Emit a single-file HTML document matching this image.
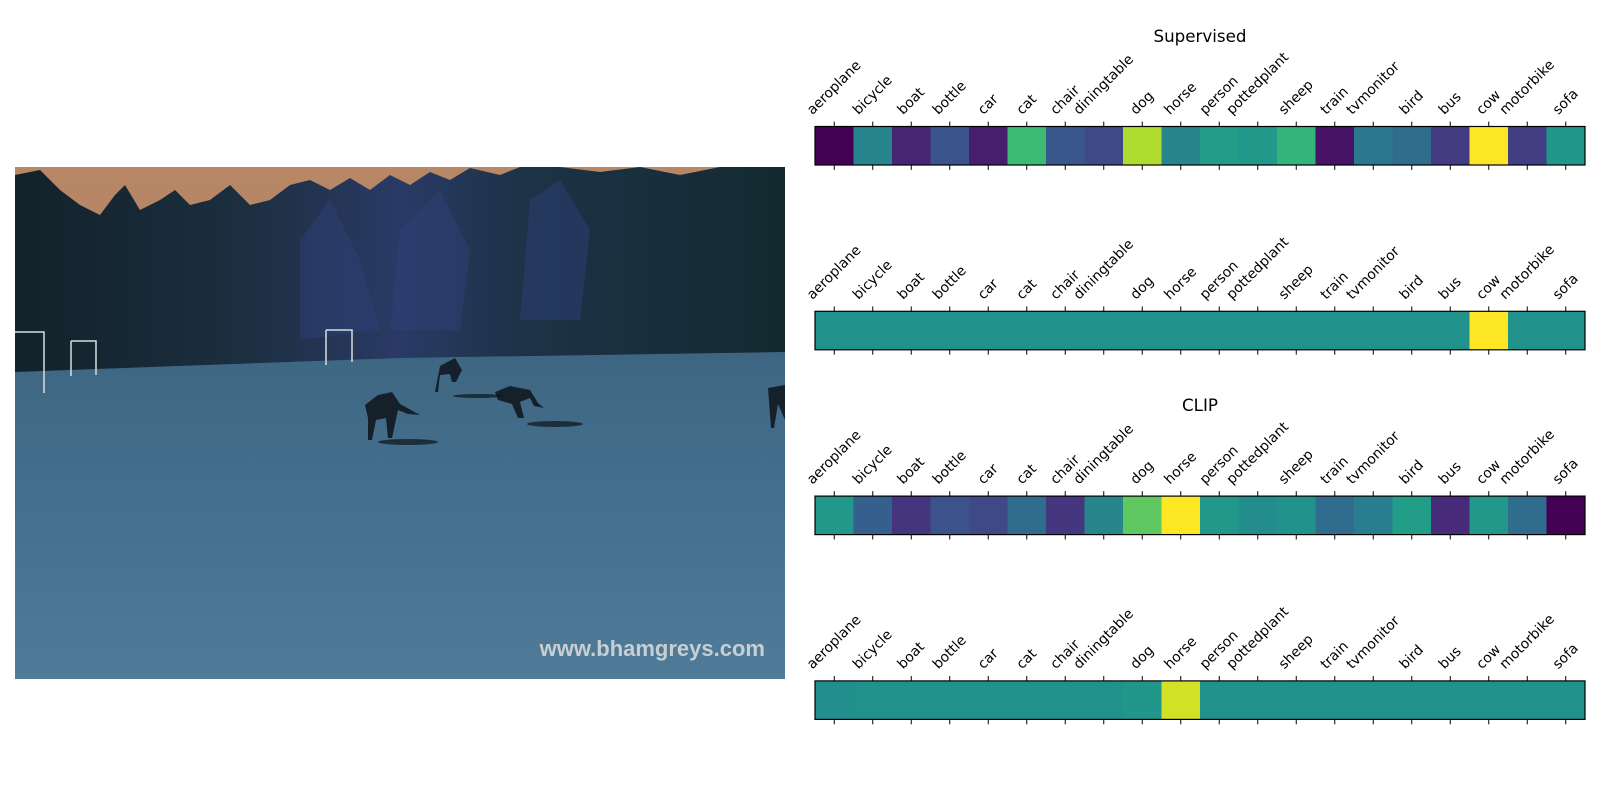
<!DOCTYPE html>
<html><head><meta charset="utf-8">
<style>
html,body{margin:0;padding:0;background:#fff;}
svg{display:block;}
text{font-family:"DejaVu Sans","Liberation Sans",sans-serif;}
</style></head>
<body>
<svg id="fig" width="1600" height="800" viewBox="0 0 1600 800" xmlns="http://www.w3.org/2000/svg">
  <defs>
    <linearGradient id="sky" x1="0" y1="0" x2="0" y2="1">
      <stop offset="0" stop-color="#b88766"/><stop offset="1" stop-color="#a07a68"/>
    </linearGradient>
    <linearGradient id="field" x1="0" y1="0" x2="0" y2="1">
      <stop offset="0" stop-color="#3e6682"/><stop offset="0.5" stop-color="#45718f"/><stop offset="1" stop-color="#4f7b98"/>
    </linearGradient>
    <linearGradient id="trees" x1="0" y1="0" x2="1" y2="0">
      <stop offset="0" stop-color="#12222a"/><stop offset="0.3" stop-color="#1c2f40"/>
      <stop offset="0.5" stop-color="#2a3a66"/><stop offset="0.65" stop-color="#1d3348"/><stop offset="1" stop-color="#132a30"/>
    </linearGradient>
    <clipPath id="imgclip"><rect x="15" y="167" width="770" height="512"/></clipPath>
  </defs>
  <g clip-path="url(#imgclip)">
    <rect x="15" y="167" width="770" height="512" fill="url(#sky)"/>
    <path fill="url(#trees)" d="M15,175 L40,170 L60,190 L80,205 L100,215 L115,195 L125,185 L140,210 L160,200 L175,190 L190,205 L210,200 L230,185 L250,205 L270,200 L290,185 L310,180 L330,190 L350,178 L370,190 L390,175 L410,185 L430,172 L450,180 L470,168 L500,175 L520,167 L560,167 L600,172 L640,167 L680,175 L720,167 L785,167 L785,355 L15,375 Z"/>
    <path fill="#2d3f78" opacity="0.5" d="M300,240 L330,200 L360,260 L380,330 L300,340 Z M400,230 L440,190 L470,250 L460,330 L390,330 Z M530,200 L560,180 L590,230 L580,320 L520,320 Z"/>
    <path fill="url(#field)" d="M15,372 L400,358 L785,352 L785,679 L15,679 Z"/>
    <g stroke="#d8dde0" stroke-width="1.5" fill="none">
      <path d="M15,332 L44,332 L44,393"/><path d="M71,341 L96,341 L96,375 M71,341 L71,376"/><path d="M326,330 L352,330 L352,362 M326,330 L326,365"/>
    </g>
    <g fill="#15202a">
      <path d="M365,405 L378,395 L392,392 L400,404 L420,415 L408,414 L398,410 L392,438 L388,438 L386,418 L376,420 L372,440 L368,440 L368,418 Z"/>
      <path d="M440,366 L455,358 L462,370 L456,382 L452,382 L450,374 L440,375 L438,392 L435,392 Z"/>
      <path d="M495,392 L510,386 L530,390 L538,403 L544,408 L534,406 L530,398 L520,402 L524,418 L518,418 L512,404 L498,400 Z"/>
      <path d="M768,388 L785,385 L785,420 L778,404 L774,428 L771,428 Z"/>
    </g>
    <g fill="#0d141a" opacity="0.7"><ellipse cx="408" cy="442" rx="30" ry="3"/><ellipse cx="555" cy="424" rx="28" ry="3"/><ellipse cx="478" cy="396" rx="25" ry="2"/></g>
    <text x="765" y="656" text-anchor="end" font-family="Liberation Sans, sans-serif" font-weight="bold" font-size="22" fill="#c7cfd3" style="font-family:'Liberation Sans',sans-serif">www.bhamgreys.com</text>
  </g>
  <text x="1200" y="42" text-anchor="middle" font-size="16.7">Supervised</text>
  <text x="1200" y="411" text-anchor="middle" font-size="16.7">CLIP</text>
  <g id="maps"></g>
</svg>
<script>
const categories = ["aeroplane","bicycle","boat","bottle","car","cat","chair","diningtable","dog","horse","person","pottedplant","sheep","train","tvmonitor","bird","bus","cow","motorbike","sofa"];
const supervisedRow1 = [0.00,0.45,0.10,0.26,0.08,0.68,0.27,0.22,0.88,0.45,0.55,0.53,0.65,0.05,0.40,0.35,0.17,1.00,0.18,0.52];
const supervisedRow2 = [0.50,0.50,0.50,0.50,0.50,0.50,0.50,0.50,0.50,0.50,0.50,0.50,0.50,0.50,0.50,0.50,0.50,1.00,0.50,0.50];
const clipRow1 = [0.53,0.30,0.15,0.25,0.22,0.35,0.16,0.45,0.75,1.00,0.53,0.48,0.50,0.35,0.42,0.55,0.12,0.53,0.35,0.00];
const clipRow2 = [0.49,0.50,0.50,0.50,0.50,0.50,0.50,0.50,0.52,0.93,0.50,0.50,0.50,0.50,0.50,0.50,0.50,0.50,0.50,0.50];
const rowNames = ["supervised-heatmap","supervised-heatmap-2","clip-heatmap","clip-heatmap-2"];
const rows = [supervisedRow1, supervisedRow2, clipRow1, clipRow2];

const VIR = [[68,1,84],[72,36,117],[65,68,135],[53,95,141],[42,120,142],[33,145,140],[34,168,132],[68,191,112],[122,209,81],[189,223,38],[253,231,37]];
function viridis(t){t=Math.max(0,Math.min(1,t));const p=t*(VIR.length-1);const i=Math.min(Math.floor(p),VIR.length-2);const f=p-i;
  const c=VIR[i].map((v,k)=>Math.round(v+(VIR[i+1][k]-v)*f));return `rgb(${c[0]},${c[1]},${c[2]})`;}
const X0=815, X1=1585, rowTops=[126.5,311.3,496.1,680.9], H=38.5;
const cw=(X1-X0)/categories.length;
const xScale=i=>X0+i*cw;
const NS="http://www.w3.org/2000/svg";
const maps=document.getElementById('maps');
function mk(tag,attrs,parent){const e=document.createElementNS(NS,tag);for(const k in attrs)e.setAttribute(k,attrs[k]);parent.appendChild(e);return e;}
rows.forEach((vals,r)=>{
  const g=mk('g',{},maps);
  
  
  const top=rowTops[r];
  vals.forEach((v,i)=>{
    const c=mk('rect',{x:xScale(i),y:top,width:cw+0.5,height:H,fill:viridis(v)},g);
    
    
  });
  const b=mk('rect',{x:X0,y:top,width:X1-X0,height:H,fill:'none',stroke:'#000','stroke-width':1.2},g);
  
  
  categories.forEach((cat,i)=>{
    const cx=xScale(i)+cw/2;
    mk('line',{x1:cx,x2:cx,y1:top,y2:top-4.9,stroke:'#000','stroke-width':1},g);
    mk('line',{x1:cx,x2:cx,y1:top+H,y2:top+H+4.9,stroke:'#000','stroke-width':1},g);
    const t=mk('text',{'font-size':13.9,'text-anchor':'middle','dominant-baseline':'central'},g);
    t.textContent=cat;
    
    
    const w=t.getComputedTextLength(), h=13.9*1.15;
    const bh=(w+h)*0.7071;
    const bottom=top-4.9-3.5;
    t.setAttribute('transform',`translate(${cx},${bottom-bh/2}) rotate(-45)`);
  });
});
</script>
</body></html>
